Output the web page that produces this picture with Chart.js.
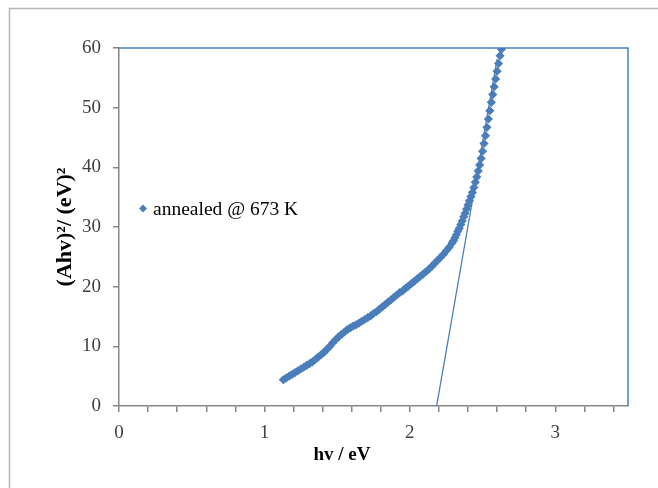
<!DOCTYPE html>
<html>
<head>
<meta charset="utf-8">
<script src="https://cdn.jsdelivr.net/npm/chart.js@4.4.1/dist/chart.umd.min.js"></script>
<style>
  body { margin: 0; background: #fff; }
  #wrap { width: 658px; height: 488px; }
</style>
</head>
<body>
<div id="wrap"><canvas id="myChart" width="658" height="488"></canvas></div>
<script>
// photon energy (eV) and (Ahv)^2
let energy=[1.13,1.15,1.17,1.19,1.21,1.23,1.25,1.27,1.29,1.31,1.33,1.35,1.37,1.39,1.41,1.43,1.45,1.47,1.49,1.51,
    1.53,1.55,1.57,1.59,1.61,1.63,1.65,1.67,1.69,1.71,1.73,1.75,1.77,1.79,1.81,1.83,1.85,1.87,1.89,1.91,
    1.93,1.95,1.97,1.99,2.01,2.03,2.05,2.07,2.09,2.11,2.13,2.15,2.17,2.19,2.21,2.23,2.25,2.27,2.29,
    2.30,2.31,2.32,2.33,2.34,2.35,2.36,2.37,2.38,2.39,2.40,2.41,2.42,2.43,2.44,2.45,2.46,2.47,2.48,2.49,
    2.50,2.51,2.52,2.53,2.54,2.55,2.56,2.57,2.58,2.59,2.60,2.61,2.62,2.63];
let ahv2=[4.4,4.7,5.0,5.3,5.6,5.9,6.2,6.5,6.8,7.1,7.4,7.8,8.2,8.6,9.0,9.5,10.0,10.6,11.1,11.6,
    12.0,12.4,12.8,13.1,13.4,13.6,13.9,14.2,14.5,14.8,15.1,15.5,15.8,16.2,16.6,17.0,17.4,17.8,18.2,18.6,
    19.0,19.3,19.7,20.1,20.5,20.9,21.3,21.7,22.1,22.5,22.9,23.4,23.9,24.4,24.9,25.4,26.0,26.6,27.3,
    27.7,28.2,28.7,29.3,29.8,30.4,31.0,31.7,32.3,33.0,33.7,34.4,35.1,35.8,36.6,37.5,38.4,39.4,40.4,41.5,
    42.7,44.0,45.3,46.7,48.1,49.5,50.9,52.2,53.5,54.8,56.1,57.4,58.7,59.8];
// straight line extrapolated to the energy axis
let fitX=[2.184,2.60];
let fitY=[0,58.2];
let seriesName="annealed @ 673 K";
let xTitle="hv / eV";
let yTitle="(Ahv)²/ (eV)²";

const blue='#4a7ebb';
const axisGrey='#868686';

// frame, plot border, legend and x title
const extras={
    id:'extras',
    beforeDraw(chart){
        const ctx=chart.ctx;
        ctx.save();
        ctx.strokeStyle='#b4b4b4';
        ctx.lineWidth=1.5;
        ctx.beginPath();
        ctx.moveTo(9.5,488);
        ctx.lineTo(9.5,8.5);
        ctx.lineTo(658,8.5);
        ctx.stroke();
        ctx.restore();
    },
    afterDraw(chart){
        const ctx=chart.ctx;
        const a=chart.chartArea;
        ctx.save();
        ctx.strokeStyle=blue;
        ctx.lineWidth=1.5;
        ctx.beginPath();
        ctx.moveTo(a.left,a.top);
        ctx.lineTo(a.right,a.top);
        ctx.lineTo(a.right,a.bottom);
        ctx.stroke();

        // legend
        ctx.fillStyle=blue;
        ctx.beginPath();
        ctx.moveTo(143,204.5);
        ctx.lineTo(147,208.5);
        ctx.lineTo(143,212.5);
        ctx.lineTo(139,208.5);
        ctx.closePath();
        ctx.fill();
        ctx.fillStyle='#000';
        ctx.font='19.5px "Liberation Serif"';
        ctx.textBaseline='alphabetic';
        ctx.fillText(chart.data.datasets[0].label,153,215);

        // x axis title
        ctx.font='bold 19px "Liberation Serif"';
        ctx.textAlign='center';
        ctx.fillText(xTitle,342,460);
        ctx.restore();
    }
};

const ctx=document.getElementById('myChart').getContext('2d');
const myChart=new Chart(ctx,{
    type:'scatter',
    data:{
        datasets:[{
            label:seriesName,
            data:energy.map((e,i)=>({x:e,y:ahv2[i]})),
            pointStyle:'rectRot',
            pointRadius:3.6,
            borderWidth:1.4,
            backgroundColor:blue,
            borderColor:blue,
            showLine:false
        },{
            label:'fit',
            data:fitX.map((e,i)=>({x:e,y:fitY[i]})),
            showLine:true,
            pointRadius:0,
            borderWidth:1.3,
            borderColor:blue,
            backgroundColor:blue
        }]
    },
    options:{
        responsive:false,
        animation:false,
        layout:{padding:{left:0,top:48,right:30,bottom:0}},
        plugins:{legend:{display:false},tooltip:{enabled:false}},
        scales:{
            x:{
                type:'linear',
                min:0,
                max:3.5,
                afterFit:(s)=>{s.height=82;},
                grid:{drawOnChartArea:false,tickLength:6,color:axisGrey,lineWidth:1.5},
                border:{color:axisGrey,width:1.5},
                ticks:{
                    stepSize:0.2,
                    autoSkip:false,
                    includeBounds:false,
                    maxRotation:0,
                    padding:10,
                    color:'#404040',
                    font:{family:'"Liberation Serif"',size:19},
                    callback:(v)=>Math.abs(v-Math.round(v))<1e-6?String(Math.round(v)):''
                }
            },
            y:{
                min:0,
                max:60,
                afterFit:(s)=>{s.width=119;},
                grid:{drawOnChartArea:false,tickLength:6,color:axisGrey,lineWidth:1.5},
                border:{color:axisGrey,width:1.5},
                ticks:{
                    stepSize:10,
                    padding:12,
                    color:'#404040',
                    font:{family:'"Liberation Serif"',size:19}
                },
                title:{
                    display:true,
                    text:yTitle,
                    color:'#000',
                    font:{family:'"Liberation Serif"',size:22,weight:'bold'},
                    padding:{top:52,bottom:0}
                }
            }
        }
    },
    plugins:[extras]
});
</script>
</body>
</html>
